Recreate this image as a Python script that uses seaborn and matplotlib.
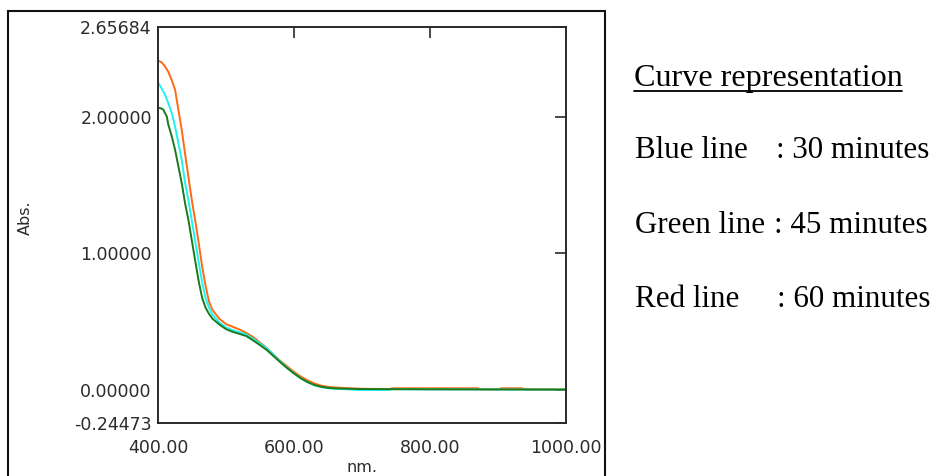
import matplotlib
matplotlib.use("Agg")
import matplotlib.pyplot as plt
from matplotlib.patches import Rectangle
from matplotlib.lines import Line2D
import seaborn as sns
import pandas as pd

# ---------------- data ----------------
wl_30 = [400, 405, 410, 415, 420, 425, 430, 435, 440, 445, 450, 455, 460, 465, 470,
         475, 480, 490, 500, 510, 520, 530, 540, 550, 560, 570, 580, 590, 600, 610,
         620, 630, 640, 650, 660, 680, 690, 700, 740, 745, 800, 900, 1000]
abs_30 = [2.25, 2.21, 2.165, 2.10, 2.03, 1.93, 1.805, 1.68, 1.51, 1.38, 1.23, 1.08, 0.93,
          0.785, 0.67, 0.60, 0.55, 0.493, 0.455, 0.435, 0.42, 0.404, 0.372, 0.338, 0.302,
          0.255, 0.205, 0.16, 0.12, 0.083, 0.054, 0.032, 0.018, 0.010, 0.006, 0.002,
          -0.002, -0.003, -0.003, 0.003, 0.002, 0.001, 0.0]

wl_45 = [400, 405, 408, 410, 413, 415, 420, 425, 430, 435, 440, 445, 450, 455, 460,
         465, 470, 475, 480, 490, 500, 510, 520, 530, 540, 550, 560, 570, 580, 590,
         600, 610, 620, 630, 640, 650, 660, 680, 700, 750, 800, 900, 1000]
abs_45 = [2.065, 2.06, 2.05, 2.03, 2.0, 1.945, 1.86, 1.76, 1.635, 1.51, 1.36, 1.235,
          1.085, 0.935, 0.79, 0.67, 0.60, 0.555, 0.52, 0.478, 0.443, 0.423, 0.408,
          0.392, 0.36, 0.326, 0.29, 0.245, 0.20, 0.157, 0.118, 0.083, 0.055, 0.034,
          0.021, 0.013, 0.009, 0.006, 0.004, 0.003, 0.002, 0.001, 0.0]

wl_60 = [400, 405, 410, 415, 420, 425, 430, 435, 440, 445, 450, 455, 460, 465, 470,
         475, 480, 490, 500, 510, 520, 530, 540, 550, 560, 570, 580, 590, 600, 610,
         620, 630, 640, 650, 660, 680, 700, 740, 745, 870, 875, 900, 905, 935, 940, 1000]
abs_60 = [2.41, 2.40, 2.37, 2.33, 2.27, 2.20, 2.05, 1.90, 1.72, 1.55, 1.38, 1.23, 1.07,
          0.90, 0.76, 0.645, 0.585, 0.52, 0.48, 0.46, 0.44, 0.415, 0.385, 0.345, 0.305,
          0.255, 0.21, 0.17, 0.13, 0.095, 0.068, 0.045, 0.029, 0.020, 0.016, 0.010,
          0.006, 0.004, 0.010, 0.010, 0.002, 0.002, 0.010, 0.010, 0.002, 0.001]

series_names = ["60 minutes", "30 minutes", "45 minutes"]   # drawing order
series_colors = ["#ff6a13", "#1ef2f2", "#1b7a1b"]

y_ticks = [-0.24473, 0.0, 1.0, 2.0, 2.65684]
y_tick_labels = ["-0.24473", "0.00000", "1.00000", "2.00000", "2.65684"]
x_ticks = [400, 600, 800, 1000]
x_tick_labels = ["400.00", "600.00", "800.00", "1000.00"]

legend_title = "Curve representation"
legend_names = ["Blue line", "Green line", "Red line"]
legend_values = [": 30 minutes", ": 45 minutes", ": 60 minutes"]

# ---------------- build table ----------------
frames = []
for name, wl, ab in [("30 minutes", wl_30, abs_30), ("45 minutes", wl_45, abs_45),
                     ("60 minutes", wl_60, abs_60)]:
    frames.append(pd.DataFrame({"nm": wl, "Abs": ab, "time": name}))
df = pd.concat(frames, ignore_index=True)

# ---------------- figure ----------------
sns.set_style("white")
plt.rcParams["font.family"] = ["DejaVu Sans"]

W, H = 935, 476
fig = plt.figure(figsize=(W / 100, H / 100), dpi=100)
L, R, T, B = 158, 566, 27, 423
ax = fig.add_axes([L / W, 1 - B / H, (R - L) / W, (B - T) / H])

sns.lineplot(data=df, x="nm", y="Abs", hue="time", hue_order=series_names,
             palette=series_colors, estimator=None, sort=False, linewidth=1.4,
             legend=False, ax=ax)

ax.set_xlim(400, 1000)
ax.set_ylim(-0.24473, 2.65684)
ax.set_xticks(x_ticks)
ax.set_xticklabels(x_tick_labels)
ax.set_yticks(y_ticks)
ax.set_yticklabels(y_tick_labels)

tick_col = "#2a2a2a"
ax.tick_params(axis="both", direction="in", length=8, width=1.2, colors=tick_col,
               labelsize=12.5, top=True, right=True)
ax.tick_params(axis="y", pad=4.5)
ax.tick_params(axis="x", pad=11.5)
for lab in ax.get_xticklabels() + ax.get_yticklabels():
    lab.set_color("#2b2b2b")
for sp in ax.spines.values():
    sp.set_visible(True)
    sp.set_linewidth(1.4)
    sp.set_color(tick_col)

ax.set_xlabel("nm.", fontsize=11.5, color="#2b2b2b", va="center")
ax.xaxis.set_label_coords(0.5, (B - 467) / (B - T))
ax.set_ylabel("Abs.", fontsize=11.5, color="#2b2b2b", va="center")
ax.yaxis.set_label_coords((25 - L) / (R - L), (B - 218) / (B - T))

# outer frame
fig.add_artist(Rectangle((8 / W, -0.05), (605 - 8) / W, 1.05 - 11 / H,
                         transform=fig.transFigure, fill=False,
                         edgecolor="#111111", linewidth=1.5))

# right-hand text block
serif = ["Liberation Serif", "DejaVu Serif"]
fs = 22.3
fig.text(634 / W, 1 - 86 / H, legend_title, fontsize=23.1, family=serif,
         va="baseline", ha="left", color="black")
fig.add_artist(Line2D([634 / W, 902 / W], [1 - 90.5 / H, 1 - 90.5 / H],
                      transform=fig.transFigure, color="black", linewidth=1.3))
rows_y = [158, 233, 307]
colon_x = [776, 774, 777]
for name, val, yb, cx in zip(legend_names, legend_values, rows_y, colon_x):
    fig.text(635 / W, 1 - yb / H, name, fontsize=fs, family=serif,
             va="baseline", ha="left", color="black")
    fig.text(cx / W, 1 - yb / H, val, fontsize=fs, family=serif,
             va="baseline", ha="left", color="black")

fig.savefig("out.png", dpi=100)
